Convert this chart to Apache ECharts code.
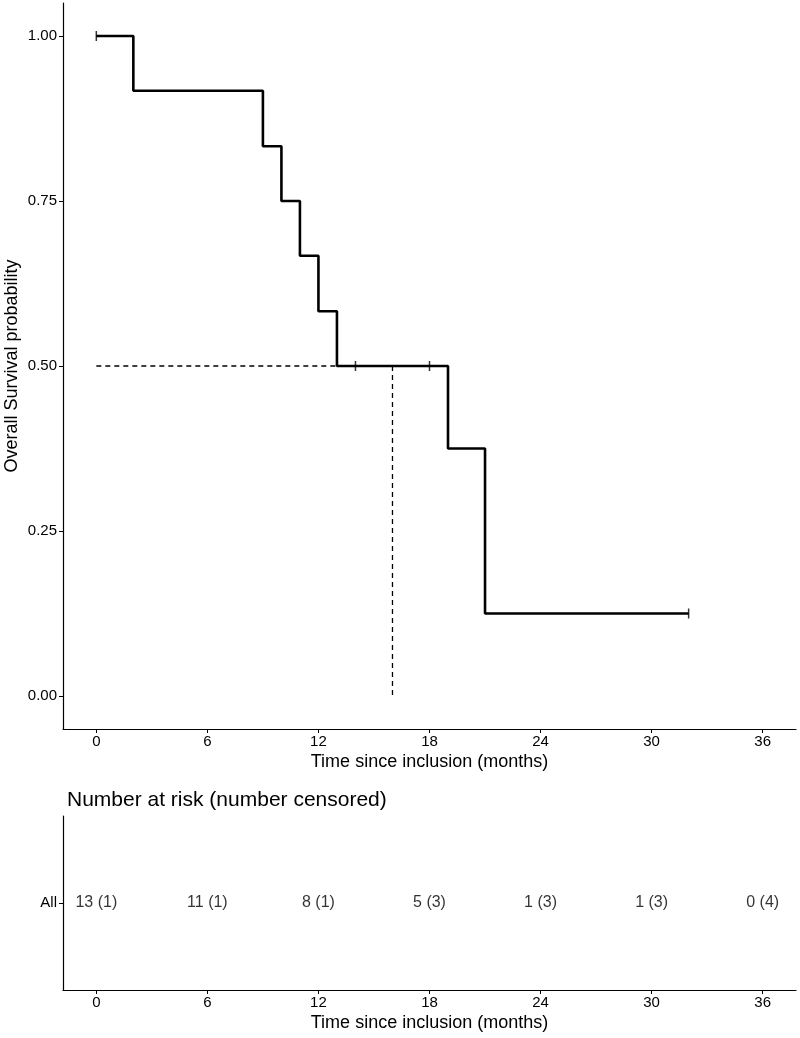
<!DOCTYPE html>
<html>
<head>
<meta charset="utf-8">
<script src="https://cdn.jsdelivr.net/npm/echarts@6/dist/echarts.min.js"></script>
<style>html,body{margin:0;padding:0;background:#fff}#c{width:800px;height:1038px}</style>
</head>
<body>
<div id="c"></div>
<script>
// Kaplan-Meier step data
var kmTimes = [0, 2, 9, 10, 11, 12, 13, 19, 21, 32];
var kmSurv  = [1.0, 0.917, 0.833, 0.75, 0.667, 0.583, 0.5, 0.375, 0.125, 0.125];
// censored observations
var censorTimes = [0, 14, 18, 32];
var censorSurv  = [1.0, 0.5, 0.5, 0.125];
// median survival
var medianTime = 16;
var medianSurv = 0.5;
// risk table
var riskTimes = [0, 6, 12, 18, 24, 30, 36];
var nRisk     = [13, 11, 8, 5, 1, 1, 0];
var nCensored = [1, 1, 1, 3, 3, 3, 4];
var strata = ['All'];
// ticks
var xTicks = [0, 6, 12, 18, 24, 30, 36];
var yTicks = [0, 0.25, 0.5, 0.75, 1.0];

var FONT = 'Liberation Sans, Arial, sans-serif';
var chart = echarts.init(document.getElementById('c'), null, {renderer: 'canvas'});

var axisLineStyle = {color: '#000', width: 1.2};
var tickStyle = {color: '#000', width: 1};

function xAxisCfg(gridIndex) {
  return {
    type: 'value', gridIndex: gridIndex, min: -1.8, max: 37.8,
    name: 'Time since inclusion (months)', nameLocation: 'middle', nameGap: 24,
    nameMoveOverlap: false,
    nameTextStyle: {fontFamily: FONT, fontSize: 18, color: '#000'},
    axisLine: {show: true, onZero: false, lineStyle: axisLineStyle},
    axisTick: {show: true, length: 4, lineStyle: tickStyle, customValues: xTicks},
    axisLabel: {fontFamily: FONT, fontSize: 15, color: '#000', margin: 5, customValues: xTicks},
    splitLine: {show: false}
  };
}

var kmData = kmTimes.map(function (t, i) { return [t, kmSurv[i]]; });
var censorData = censorTimes.map(function (t, i) { return [t, censorSurv[i]]; });
var riskData = riskTimes.map(function (t, i) { return [t, 'All', nRisk[i], nCensored[i]]; });

chart.setOption({
  animation: false,
  backgroundColor: '#fff',
  title: {
    text: 'Number at risk (number censored)', left: 62, top: 785,
    textStyle: {fontFamily: FONT, fontSize: 21, fontWeight: 'normal', color: '#000'}
  },
  grid: [
    {left: 63, top: 3, width: 733, height: 726, containLabel: false, outerBoundsMode: 'none'},
    {left: 63, top: 816, width: 733, height: 174, containLabel: false, outerBoundsMode: 'none'}
  ],
  xAxis: [xAxisCfg(0), xAxisCfg(1)],
  yAxis: [
    {
      type: 'value', gridIndex: 0, min: -0.05, max: 1.05,
      name: 'Overall Survival probability', nameLocation: 'middle', nameGap: 42,
      nameMoveOverlap: false,
      nameTextStyle: {fontFamily: FONT, fontSize: 18, color: '#000'},
      axisLine: {show: true, onZero: false, lineStyle: axisLineStyle},
      axisTick: {show: true, length: 4, lineStyle: tickStyle, customValues: yTicks},
      axisLabel: {fontFamily: FONT, fontSize: 15, color: '#000', margin: 6, customValues: yTicks,
        formatter: function (v) { return v.toFixed(2); }},
      splitLine: {show: false}
    },
    {
      type: 'category', gridIndex: 1, data: strata,
      axisLine: {show: true, onZero: false, lineStyle: axisLineStyle},
      axisTick: {show: true, length: 4, alignWithLabel: true, lineStyle: tickStyle},
      axisLabel: {fontFamily: FONT, fontSize: 15, color: '#000', margin: 6},
      splitLine: {show: false}
    }
  ],
  series: [
    {
      type: 'line', xAxisIndex: 0, yAxisIndex: 0, step: 'end', data: kmData,
      symbol: 'none', lineStyle: {color: '#000', width: 2.6}, z: 3
    },
    {
      type: 'scatter', xAxisIndex: 0, yAxisIndex: 0, data: censorData,
      symbol: 'rect', symbolSize: [1.5, 10], itemStyle: {color: '#000'}, z: 4
    },
    {
      type: 'line', xAxisIndex: 0, yAxisIndex: 0,
      data: [[0, medianSurv], [medianTime, medianSurv]],
      symbol: 'none', lineStyle: {color: '#000', width: 1.3, type: [5, 4]}, z: 2
    },
    {
      type: 'line', xAxisIndex: 0, yAxisIndex: 0,
      data: [[medianTime, medianSurv], [medianTime, 0]],
      symbol: 'none', lineStyle: {color: '#000', width: 1.3, type: [5, 4]}, z: 2
    },
    {
      type: 'scatter', xAxisIndex: 1, yAxisIndex: 1, data: riskData,
      symbolSize: 0,
      label: {
        show: true, position: 'inside', fontFamily: FONT, fontSize: 16, color: '#000',
        formatter: function (p) { return p.data[2] + ' (' + p.data[3] + ')'; }
      }
    }
  ]
});
</script>
</body>
</html>
